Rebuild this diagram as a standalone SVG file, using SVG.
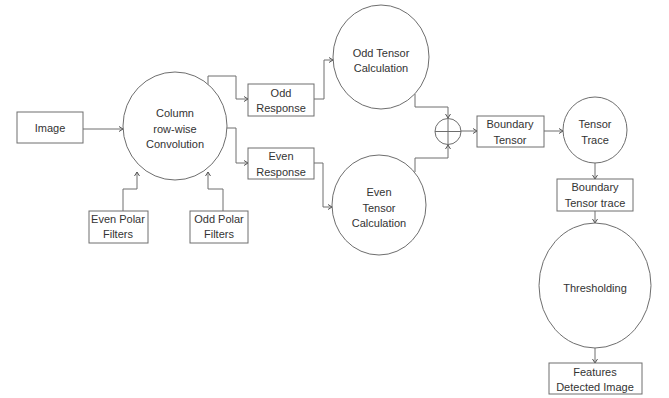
<svg xmlns="http://www.w3.org/2000/svg" width="669" height="398" viewBox="0 0 669 398">
<defs>
<style>
.n{fill:#fff;stroke:#6e6e6e;stroke-width:1}
.t{font-family:"Liberation Sans",Arial,sans-serif;font-size:11px;fill:#333;text-anchor:middle}
.c{fill:none;stroke:#6e6e6e;stroke-width:1}
</style>
<marker id="a" markerWidth="8" markerHeight="8" refX="6" refY="4" orient="auto" markerUnits="userSpaceOnUse">
<path d="M2,1.5 L6,4 L2,6.5" fill="none" stroke="#555" stroke-width="1"/>
</marker>
</defs>
<rect width="669" height="398" fill="#fff"/>
<g id="connectors">
<path class="c" d="M83,129 H123" marker-end="url(#a)"/>
<path class="c" d="M123,211 V189 H137 V172" marker-end="url(#a)"/>
<path class="c" d="M223,211 V189 H208 V172" marker-end="url(#a)"/>
<path class="c" d="M208,86 V76 H236 V99 H248" marker-end="url(#a)"/>
<path class="c" d="M227,128 H236 V163 H248" marker-end="url(#a)"/>
<path class="c" d="M314,99 H324 V60 H333" marker-end="url(#a)"/>
<path class="c" d="M314,163 H323 V207 H332" marker-end="url(#a)"/>
<path class="c" d="M415,94 V107 H448 V118" marker-end="url(#a)"/>
<path class="c" d="M415,172 V158 H448 V145" marker-end="url(#a)"/>
<path class="c" d="M461,131 H477" marker-end="url(#a)"/>
<path class="c" d="M544,131 H563" marker-end="url(#a)"/>
<path class="c" d="M595,163 V179" marker-end="url(#a)"/>
<path class="c" d="M595,211 V223" marker-end="url(#a)"/>
<path class="c" d="M595,348 V363" marker-end="url(#a)"/>
</g>
<g id="image"><rect class="n" x="17" y="112" width="66" height="31"/><text class="t" x="50" y="132">Image</text></g>
<g id="convolution"><ellipse class="n" cx="175" cy="126" rx="52" ry="54"/><text class="t" x="175" y="117">Column</text><text class="t" x="175" y="133">row-wise</text><text class="t" x="175" y="148">Convolution</text></g>
<g id="even-polar"><rect class="n" x="89" y="211" width="59" height="32"/><text class="t" x="118" y="223">Even Polar</text><text class="t" x="118" y="238">Filters</text></g>
<g id="odd-polar"><rect class="n" x="190" y="211" width="58" height="32"/><text class="t" x="219" y="223">Odd Polar</text><text class="t" x="219" y="238">Filters</text></g>
<g id="odd-response"><rect class="n" x="248" y="84" width="66" height="32"/><text class="t" x="281" y="97">Odd</text><text class="t" x="281" y="112">Response</text></g>
<g id="even-response"><rect class="n" x="248" y="148" width="66" height="31"/><text class="t" x="281" y="160">Even</text><text class="t" x="281" y="176">Response</text></g>
<g id="odd-tensor"><ellipse class="n" cx="381" cy="57" rx="48" ry="52"/><text class="t" x="381" y="57">Odd Tensor</text><text class="t" x="381" y="72">Calculation</text></g>
<g id="even-tensor"><ellipse class="n" cx="379" cy="205" rx="47" ry="50"/><text class="t" x="379" y="196">Even</text><text class="t" x="379" y="212">Tensor</text><text class="t" x="379" y="227">Calculation</text></g>
<g id="sum"><circle class="n" cx="448" cy="131.5" r="13"/><path class="c" d="M435,131.5 H461 M448,118.5 V144.5"/></g>
<g id="boundary-tensor"><rect class="n" x="477" y="116" width="67" height="31"/><text class="t" x="510" y="128">Boundary</text><text class="t" x="510" y="144">Tensor</text></g>
<g id="tensor-trace"><ellipse class="n" cx="595" cy="130" rx="32" ry="33"/><text class="t" x="595" y="128">Tensor</text><text class="t" x="595" y="144">Trace</text></g>
<g id="boundary-trace"><rect class="n" x="557" y="179" width="76" height="32"/><text class="t" x="595" y="191">Boundary</text><text class="t" x="595" y="207">Tensor trace</text></g>
<g id="thresholding"><ellipse class="n" cx="595" cy="285.5" rx="56" ry="62.5"/><text class="t" x="595" y="292">Thresholding</text></g>
<g id="features"><rect class="n" x="549" y="363" width="93" height="31"/><text class="t" x="595" y="376">Features</text><text class="t" x="595" y="391">Detected Image</text></g>
</svg>
